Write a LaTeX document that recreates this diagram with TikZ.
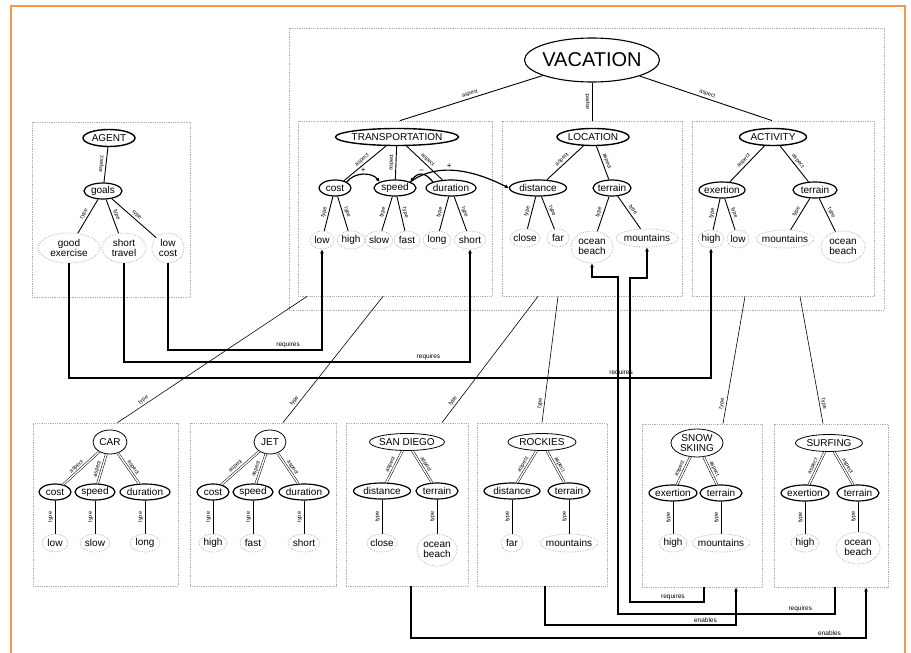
\documentclass[tikz,border=0pt]{standalone}
\usepackage{fontspec}
\setmainfont{Liberation Sans}
\usetikzlibrary{shapes.geometric,arrows.meta,calc}
\definecolor{framec}{RGB}{247,152,72}
\begin{document}
\begin{tikzpicture}[x=1pt,y=1pt,
 sz/.style 2 args={minimum width=#1, minimum height=#2},
 base/.style={ellipse, inner xsep=-40pt, inner ysep=-20pt, align=center, font=\fontsize{10}{10}\selectfont},
 vacs/.style={base, draw, line width=1.1pt, font=\fontsize{20}{20}\selectfont},
 concept/.style={base, draw, line width=1.4pt},
 bconcept/.style={base, draw, line width=0.8pt},
 attr/.style={base, draw, line width=1.2pt},
 val/.style={base, draw=gray!60, densely dotted, line width=0.7pt},
 box/.style={draw=gray!65, densely dotted, line width=0.8pt, inner sep=0pt},
 tedge/.style={line width=0.9pt},
 bedge/.style={line width=0.6pt},
 baedge/.style={double=white, double distance=1.4pt, line width=0.5pt},
 elbl/.style={font=\fontsize{5.5}{5.5}\selectfont, sloped, above, inner sep=1.6pt},
 tline/.style={line width=0.6pt},
 req/.style={line width=1.6pt, -{Latex[length=4pt,width=4pt]}},
 rlbl/.style={font=\fontsize{6.5}{6.5}\selectfont, above, inner sep=1.8pt},
 infl/.style={line width=1.2pt, -{Latex[length=4pt,width=4pt]}},
 ilbl/.style={font=\fontsize{8}{8}\selectfont, above, inner sep=1pt}]
\useasboundingbox (0,0) rectangle (911,-653);
\fill[white] (0,0) rectangle (911,-653);
\draw[framec, line width=1.5pt] (11,-653) -- (11,-6) -- (905,-6) -- (905,-653);

% boxes
\node[box, minimum width=595, minimum height=282] (bVac) at (586.5,-169) {};
\node[box, minimum width=158, minimum height=175] (bAgent) at (111,-209.5) {};
\node[box, minimum width=194, minimum height=175] (bTrans) at (395,-208.5) {};
\node[box, minimum width=180, minimum height=175] (bLoc) at (592,-208.5) {};
\node[box, minimum width=182, minimum height=175] (bAct) at (783,-208.5) {};
\node[box, minimum width=145, minimum height=163] (bCar) at (105.5,-504.5) {};
\node[box, minimum width=146, minimum height=163] (bJet) at (263,-504.5) {};
\node[box, minimum width=122, minimum height=163] (bSD) at (407,-504.5) {};
\node[box, minimum width=130, minimum height=163] (bRock) at (542,-504.5) {};
\node[box, minimum width=120, minimum height=163] (bSnow) at (702,-505.5) {};
\node[box, minimum width=114, minimum height=163] (bSurf) at (831,-505.5) {};

% VACATION
\node[vacs, sz={135}{44}] (vac) at (592,-60) {VACATION};

% AGENT
\node[concept, sz={52}{17}] (agent) at (109,-138) {AGENT};
\node[attr, sz={38}{16}] (goals) at (103,-191) {goals};
\node[val, sz={62}{30}] (ge) at (69,-248) {good\\exercise};
\node[val, sz={44}{30}] (st) at (124,-248) {short\\travel};
\node[val, sz={32}{30}] (lc) at (168,-248) {low\\cost};

% TRANSPORTATION
\node[concept, sz={123}{17}] (trans) at (397,-137) {TRANSPORTATION};
\node[attr, sz={32}{16}] (tcost) at (335,-188) {cost};
\node[attr, sz={42}{16}] (tspeed) at (395,-188) {speed};
\node[attr, sz={50}{16}] (tdur) at (451,-188) {duration};
\node[val, sz={24}{18}] (tlow) at (322,-240) {low};
\node[val, sz={28}{18}] (thigh) at (351,-240) {high};
\node[val, sz={28}{18}] (tslow) at (379,-240) {slow};
\node[val, sz={26}{18}] (tfast) at (407,-240) {fast};
\node[val, sz={28}{18}] (tlong) at (437,-240) {long};
\node[val, sz={32}{18}] (tshort) at (470,-240) {short};

% LOCATION
\node[concept, sz={72}{17}] (loc) at (593,-137) {LOCATION};
\node[attr, sz={57}{16}] (ldist) at (538,-188) {distance};
\node[attr, sz={38}{16}] (lterr) at (612,-188) {terrain};
\node[val, sz={30}{18}] (lclose) at (525,-238) {close};
\node[val, sz={22}{18}] (lfar) at (558,-238) {far};
\node[val, sz={42}{32}] (locean) at (592,-247) {ocean\\beach};
\node[val, sz={62}{18}] (lmount) at (647,-238) {mountains};

% ACTIVITY
\node[concept, sz={67}{17}] (act) at (773,-137) {ACTIVITY};
\node[attr, sz={46}{16}] (aexer) at (722,-190) {exertion};
\node[attr, sz={44}{16}] (aterr) at (815,-190) {terrain};
\node[val, sz={26}{18}] (ahigh) at (711,-239) {high};
\node[val, sz={22}{18}] (alow) at (738,-239) {low};
\node[val, sz={58}{18}] (amount) at (785,-239) {mountains};
\node[val, sz={44}{32}] (aocean) at (843,-247) {ocean\\beach};

% CAR
\node[bconcept, sz={34}{24}] (car) at (110,-442) {CAR};
\node[attr, sz={32}{16}] (ccost) at (55,-492) {cost};
\node[attr, sz={40}{16}] (cspeed) at (95,-492) {speed};
\node[attr, sz={50}{16}] (cdur) at (145,-492) {duration};
\node[val, sz={26}{18}] (clow) at (55,-543) {low};
\node[val, sz={30}{18}] (cslow) at (95,-543) {slow};
\node[val, sz={30}{18}] (clong) at (145,-543) {long};

% JET
\node[bconcept, sz={32}{24}] (jet) at (270,-442) {JET};
\node[attr, sz={32}{16}] (jcost) at (213,-492) {cost};
\node[attr, sz={40}{16}] (jspeed) at (253,-492) {speed};
\node[attr, sz={50}{16}] (jdur) at (304,-492) {duration};
\node[val, sz={28}{18}] (jhigh) at (213,-543) {high};
\node[val, sz={26}{18}] (jfast) at (253,-543) {fast};
\node[val, sz={32}{18}] (jshort) at (304,-543) {short};

% SAN DIEGO
\node[bconcept, sz={75}{17}] (sd) at (407,-442) {SAN DIEGO};
\node[attr, sz={57}{16}] (sdist) at (382,-491) {distance};
\node[attr, sz={42}{16}] (sterr) at (437,-491) {terrain};
\node[val, sz={30}{18}] (sclose) at (382,-543) {close};
\node[val, sz={40}{32}] (socean) at (437,-550) {ocean\\beach};

% ROCKIES
\node[bconcept, sz={68}{17}] (rk) at (542,-442) {ROCKIES};
\node[attr, sz={56}{16}] (rdist) at (512,-491) {distance};
\node[attr, sz={42}{16}] (rterr) at (569,-491) {terrain};
\node[val, sz={22}{18}] (rfar) at (512,-543) {far};
\node[val, sz={58}{18}] (rmount) at (569,-543) {mountains};

% SNOW SKIING
\node[bconcept, sz={52}{28}] (ss) at (697,-443) {SNOW\\SKIING};
\node[attr, sz={48}{16}] (sexer) at (673,-493) {exertion};
\node[attr, sz={42}{16}] (ssterr) at (721,-493) {terrain};
\node[val, sz={28}{18}] (shigh) at (673,-543) {high};
\node[val, sz={58}{18}] (smount) at (721,-543) {mountains};

% SURFING
\node[bconcept, sz={67}{17}] (sf) at (829,-443) {SURFING};
\node[attr, sz={48}{16}] (fexer) at (805,-493) {exertion};
\node[attr, sz={42}{16}] (fterr) at (858,-493) {terrain};
\node[val, sz={28}{18}] (fhigh) at (805,-543) {high};
\node[val, sz={44}{32}] (focean) at (858,-548) {ocean\\beach};

% VACATION aspects
\draw[tedge] ([xshift=5pt]bTrans.north) -- node[elbl]{aspect} (vac);
\draw[tedge] (bLoc.north) -- node[elbl]{aspect} (vac);
\draw[tedge] ([xshift=-11pt]bAct.north) -- node[elbl]{aspect} (vac);

% AGENT edges
\draw[tedge] (goals) -- node[elbl]{aspect} (agent);
\draw[tedge] (ge) -- node[elbl]{type} (goals);
\draw[tedge] (st) -- node[elbl]{type} (goals);
\draw[tedge] (lc) -- node[elbl]{type} (goals);

% TRANSPORTATION edges
\draw[tedge] (tcost) -- node[elbl]{aspect} (trans);
\draw[tedge] (tspeed) -- node[elbl]{aspect} (trans);
\draw[tedge] (tdur) -- node[elbl]{aspect} (trans);
\draw[tedge] (tlow) -- node[elbl]{type} (tcost);
\draw[tedge] (thigh) -- node[elbl]{type} (tcost);
\draw[tedge] (tslow) -- node[elbl]{type} (tspeed);
\draw[tedge] (tfast) -- node[elbl]{type} (tspeed);
\draw[tedge] (tlong) -- node[elbl]{type} (tdur);
\draw[tedge] (tshort) -- node[elbl]{type} (tdur);

% LOCATION edges
\draw[tedge] (ldist) -- node[elbl]{aspect} (loc);
\draw[tedge] (lterr) -- node[elbl]{aspect} (loc);
\draw[tedge] (lclose) -- node[elbl]{type} (ldist);
\draw[tedge] (lfar) -- node[elbl]{type} (ldist);
\draw[tedge] (locean) -- node[elbl]{type} (lterr);
\draw[tedge] (lmount) -- node[elbl]{type} (lterr);

% ACTIVITY edges
\draw[tedge] (aexer) -- node[elbl]{aspect} (act);
\draw[tedge] (aterr) -- node[elbl]{aspect} (act);
\draw[tedge] (ahigh) -- node[elbl]{type} (aexer);
\draw[tedge] (alow) -- node[elbl]{type} (aexer);
\draw[tedge] (amount) -- node[elbl]{type} (aterr);
\draw[tedge] (aocean) -- node[elbl]{type} (aterr);

% influence arcs
\draw[infl] (tcost.north east) .. controls +(8,10) and +(-8,10) .. node[ilbl]{+} (tspeed.north west);
\draw[infl] (tdur.north west) .. controls +(-8,10) and +(8,10) .. node[ilbl]{--} (tspeed.north east);
\draw[infl] (tspeed.north east) .. controls +(30,22) and +(-30,15) .. node[ilbl, pos=0.4]{+} (ldist.west);

% bottom trees
\draw[baedge] (ccost) -- node[elbl, pos=0.45]{aspect} (car);
\draw[baedge] (cspeed) -- node[elbl, pos=0.45]{aspect} (car);
\draw[baedge] (cdur) -- node[elbl, pos=0.45]{aspect} (car);
\draw[bedge] (clow) -- node[elbl]{type} (ccost);
\draw[bedge] (cslow) -- node[elbl]{type} (cspeed);
\draw[bedge] (clong) -- node[elbl]{type} (cdur);

\draw[baedge] (jcost) -- node[elbl, pos=0.45]{aspect} (jet);
\draw[baedge] (jspeed) -- node[elbl, pos=0.45]{aspect} (jet);
\draw[baedge] (jdur) -- node[elbl, pos=0.45]{aspect} (jet);
\draw[bedge] (jhigh) -- node[elbl]{type} (jcost);
\draw[bedge] (jfast) -- node[elbl]{type} (jspeed);
\draw[bedge] (jshort) -- node[elbl]{type} (jdur);

\draw[baedge] (sdist) -- node[elbl]{aspect} (sd);
\draw[baedge] (sterr) -- node[elbl]{aspect} (sd);
\draw[bedge] (sclose) -- node[elbl]{type} (sdist);
\draw[bedge] (socean) -- node[elbl]{type} (sterr);

\draw[baedge] (rdist) -- node[elbl]{aspect} (rk);
\draw[baedge] (rterr) -- node[elbl]{aspect} (rk);
\draw[bedge] (rfar) -- node[elbl]{type} (rdist);
\draw[bedge] (rmount) -- node[elbl]{type} (rterr);

\draw[baedge] (sexer) -- node[elbl]{aspect} (ss);
\draw[baedge] (ssterr) -- node[elbl]{aspect} (ss);
\draw[bedge] (shigh) -- node[elbl]{type} (sexer);
\draw[bedge] (smount) -- node[elbl]{type} (ssterr);

\draw[baedge] (fexer) -- node[elbl]{aspect} (sf);
\draw[baedge] (fterr) -- node[elbl]{aspect} (sf);
\draw[bedge] (fhigh) -- node[elbl]{type} (fexer);
\draw[bedge] (focean) -- node[elbl]{type} (fterr);

% type lines between boxes
\draw[tline] ([xshift=12pt]bCar.north) -- node[elbl, pos=0.15]{type} ([xshift=-88pt]bTrans.south);
\draw[tline] ([xshift=20pt]bJet.north) -- node[elbl, pos=0.15]{type} ([xshift=-12pt]bTrans.south);
\draw[tline] ([xshift=35pt]bSD.north) -- node[elbl, pos=0.15]{type} ([xshift=-54pt]bLoc.south);
\draw[tline] (bRock.north) -- node[elbl, pos=0.15]{type} ([xshift=-34pt]bLoc.south);
\draw[tline] ([xshift=21pt]bSnow.north) -- node[elbl, pos=0.15]{type} ([xshift=-38pt]bAct.south);
\draw[tline] ([xshift=-8pt]bSurf.north) -- node[elbl, pos=0.15]{type} ([xshift=17pt]bAct.south);

% requires / enables
\draw[req] (lc.south) |- node[rlbl, pos=0.89]{requires} (tlow.south |- 0,-350) -- (tlow.south);
\draw[req] (st.south) |- node[rlbl, pos=0.94]{requires} (tshort.south |- 0,-362) -- (tshort.south);
\draw[req] (ge.south) |- node[rlbl, pos=0.93]{requires} (ahigh.south |- 0,-378) -- (ahigh.south);
\draw[req] ([xshift=2pt]bSnow.south) |- node[rlbl, pos=0.71]{requires} (630,-602) -- (630,-278) -| (lmount.south);
\draw[req] ([xshift=4pt]bSurf.south) |- node[rlbl, pos=0.58]{requires} (618,-614) -- (618,-277) -| (locean.south);
\draw[req] ([xshift=3pt]bRock.south) |- node[rlbl, pos=0.92]{enables} ([xshift=34pt]bSnow.south |- 0,-625) -- ([xshift=34pt]bSnow.south);
\draw[req] ([xshift=4pt]bSD.south) |- node[rlbl, pos=0.96]{enables} ([xshift=35pt]bSurf.south |- 0,-638) -- ([xshift=35pt]bSurf.south);
\end{tikzpicture}
\end{document}
